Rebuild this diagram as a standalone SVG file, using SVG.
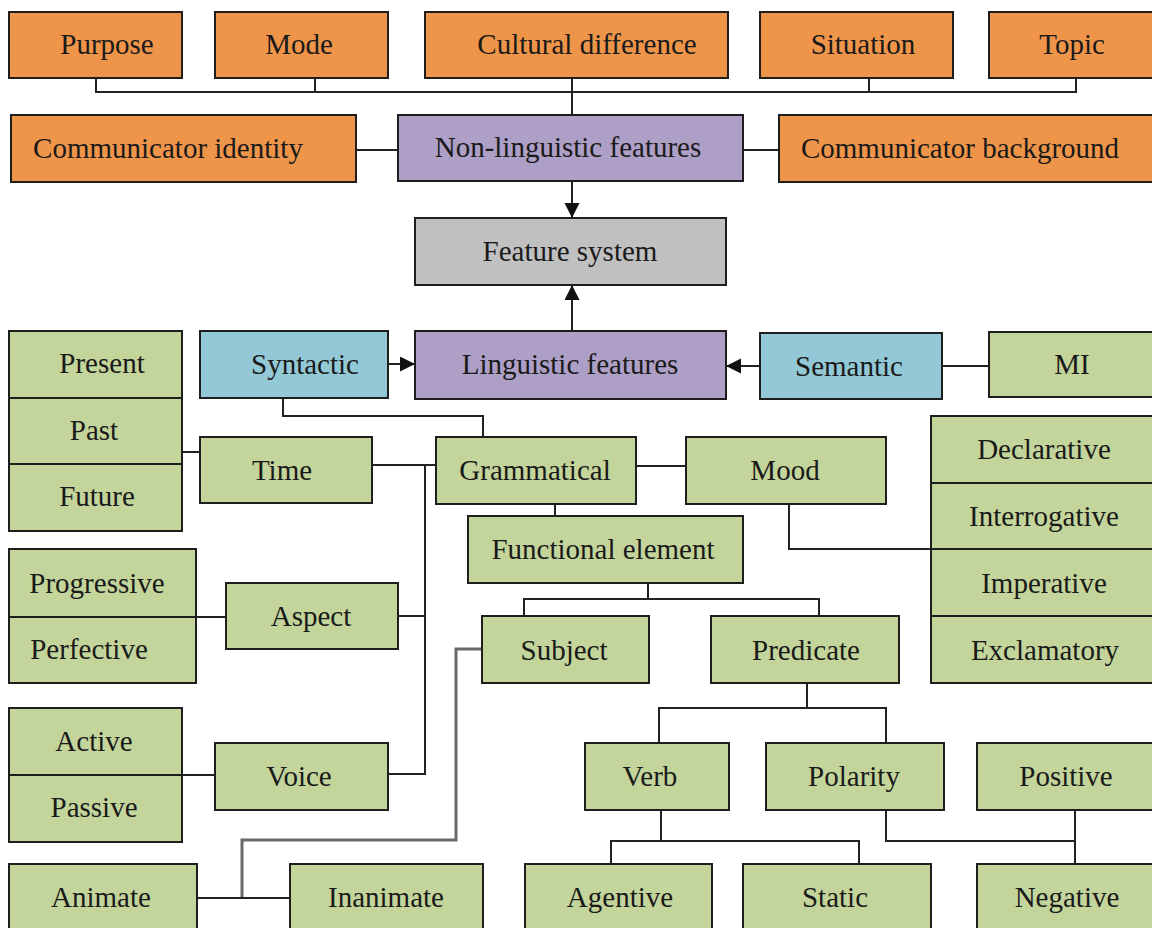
<svg xmlns="http://www.w3.org/2000/svg" width="1152" height="928" viewBox="0 0 1152 928">
  <style>
    .box { stroke: #1e1e1e; stroke-width: 2; }
    .o { fill: #ef9549; }
    .p { fill: #ae9fc6; }
    .b { fill: #93c9d6; }
    .g { fill: #c3d59b; }
    .s { fill: #c0c0c0; }
    .t { font-family: "Liberation Serif", "Times New Roman", serif; font-size: 29px; fill: #1a1a1a; text-anchor: middle; }
    .ln { fill: none; stroke: #222; stroke-width: 2; }
    .lg { fill: none; stroke: #6a6a6a; stroke-width: 3; }
  </style>
  <defs>
    <marker id="arr" markerUnits="userSpaceOnUse" markerWidth="16" markerHeight="16" refX="15" refY="7.5" orient="auto">
      <path d="M0,0 L15,7.5 L0,15 z" fill="#111"/>
    </marker>
  </defs>
  <rect width="1152" height="928" fill="#ffffff"/>

  <!-- connectors -->
  <g id="connectors">
    <path class="ln" d="M96,78 V92 H1076 V78 M315,78 V92 M869,78 V92 M572,78 V115"/>
    <path class="ln" d="M356,150 H398 M743,150 H779"/>
    <path class="ln" d="M572,181 V218" marker-end="url(#arr)"/>
    <path class="ln" d="M572,331 V285" marker-end="url(#arr)"/>
    <path class="ln" d="M388,364 H415" marker-end="url(#arr)"/>
    <path class="ln" d="M760,366 H726" marker-end="url(#arr)"/>
    <path class="ln" d="M942,366 H989"/>
    <path class="ln" d="M283,398 V416 H483 V437"/>
    <path class="ln" d="M182,452 H200"/>
    <path class="ln" d="M372,465 H436 M425,465 V774 H388 M398,616 H425"/>
    <path class="ln" d="M636,466 H686"/>
    <path class="ln" d="M789,503 V549 H931"/>
    <path class="ln" d="M555,503 V516"/>
    <path class="ln" d="M648,583 V599 M524,616 V599 H819 V616"/>
    <path class="ln" d="M196,617 H226"/>
    <path class="ln" d="M182,775 H215"/>
    <path class="lg" d="M482,649 H456 V840 H242 V898"/>
    <path class="ln" d="M197,898 H290"/>
    <path class="ln" d="M807,683 V708 M659,743 V708 H886 V743"/>
    <path class="ln" d="M661,810 V841 M611,864 V841 H859 V864"/>
    <path class="ln" d="M886,810 V841 H1075 M1075,810 V864"/>
  </g>

  <!-- non-linguistic factors -->
  <g id="purpose"><rect class="box o" x="9" y="12" width="173" height="66"/><text class="t" x="107" y="54">Purpose</text></g>
  <g id="mode"><rect class="box o" x="215" y="12" width="173" height="66"/><text class="t" x="299" y="54">Mode</text></g>
  <g id="cultural-difference"><rect class="box o" x="425" y="12" width="303" height="66"/><text class="t" x="587" y="54">Cultural difference</text></g>
  <g id="situation"><rect class="box o" x="760" y="12" width="193" height="66"/><text class="t" x="863" y="54">Situation</text></g>
  <g id="topic"><rect class="box o" x="989" y="12" width="170" height="66"/><text class="t" x="1072" y="54">Topic</text></g>
  <g id="communicator-identity"><rect class="box o" x="11" y="115" width="345" height="67"/><text class="t" x="168" y="158">Communicator identity</text></g>
  <g id="non-linguistic-features"><rect class="box p" x="398" y="115" width="345" height="66"/><text class="t" x="568" y="157">Non-linguistic features</text></g>
  <g id="communicator-background"><rect class="box o" x="779" y="115" width="380" height="67"/><text class="t" x="960" y="158">Communicator background</text></g>

  <!-- central -->
  <g id="feature-system"><rect class="box s" x="415" y="218" width="311" height="67"/><text class="t" x="570" y="261">Feature system</text></g>
  <g id="syntactic"><rect class="box b" x="200" y="331" width="188" height="67"/><text class="t" x="305" y="374">Syntactic</text></g>
  <g id="linguistic-features"><rect class="box p" x="415" y="331" width="311" height="68"/><text class="t" x="570" y="374">Linguistic features</text></g>
  <g id="semantic"><rect class="box b" x="760" y="333" width="182" height="66"/><text class="t" x="849" y="376">Semantic</text></g>
  <g id="mi"><rect class="box g" x="989" y="332" width="170" height="65"/><text class="t" x="1072" y="374">MI</text></g>

  <!-- time -->
  <g id="present"><rect class="box g" x="9" y="331" width="173" height="67"/><text class="t" x="102" y="373">Present</text></g>
  <g id="past"><rect class="box g" x="9" y="398" width="173" height="66"/><text class="t" x="94" y="440">Past</text></g>
  <g id="future"><rect class="box g" x="9" y="464" width="173" height="67"/><text class="t" x="97" y="506">Future</text></g>
  <g id="time"><rect class="box g" x="200" y="437" width="172" height="66"/><text class="t" x="282" y="480">Time</text></g>
  <g id="grammatical"><rect class="box g" x="436" y="437" width="200" height="67"/><text class="t" x="535" y="480">Grammatical</text></g>
  <g id="mood"><rect class="box g" x="686" y="437" width="200" height="67"/><text class="t" x="785" y="480">Mood</text></g>

  <!-- mood types -->
  <g id="declarative"><rect class="box g" x="931" y="416" width="228" height="67"/><text class="t" x="1044" y="459">Declarative</text></g>
  <g id="interrogative"><rect class="box g" x="931" y="483" width="228" height="66"/><text class="t" x="1044" y="526">Interrogative</text></g>
  <g id="imperative"><rect class="box g" x="931" y="549" width="228" height="67"/><text class="t" x="1044" y="593">Imperative</text></g>
  <g id="exclamatory"><rect class="box g" x="931" y="616" width="228" height="67"/><text class="t" x="1045" y="660">Exclamatory</text></g>

  <g id="functional-element"><rect class="box g" x="468" y="516" width="275" height="67"/><text class="t" x="603" y="559">Functional element</text></g>

  <!-- aspect -->
  <g id="progressive"><rect class="box g" x="9" y="549" width="187" height="68"/><text class="t" x="97" y="593">Progressive</text></g>
  <g id="perfective"><rect class="box g" x="9" y="617" width="187" height="66"/><text class="t" x="89" y="659">Perfective</text></g>
  <g id="aspect"><rect class="box g" x="226" y="583" width="172" height="66"/><text class="t" x="311" y="626">Aspect</text></g>

  <g id="subject"><rect class="box g" x="482" y="616" width="167" height="67"/><text class="t" x="564" y="660">Subject</text></g>
  <g id="predicate"><rect class="box g" x="711" y="616" width="188" height="67"/><text class="t" x="806" y="660">Predicate</text></g>

  <!-- voice -->
  <g id="active"><rect class="box g" x="9" y="708" width="173" height="67"/><text class="t" x="94" y="751">Active</text></g>
  <g id="passive"><rect class="box g" x="9" y="775" width="173" height="67"/><text class="t" x="94" y="817">Passive</text></g>
  <g id="voice"><rect class="box g" x="215" y="743" width="173" height="67"/><text class="t" x="299" y="786">Voice</text></g>

  <!-- predicate branches -->
  <g id="verb"><rect class="box g" x="585" y="743" width="144" height="67"/><text class="t" x="650" y="786">Verb</text></g>
  <g id="polarity"><rect class="box g" x="766" y="743" width="178" height="67"/><text class="t" x="854" y="786">Polarity</text></g>
  <g id="positive"><rect class="box g" x="977" y="743" width="182" height="67"/><text class="t" x="1066" y="786">Positive</text></g>

  <!-- bottom row -->
  <g id="animate"><rect class="box g" x="9" y="864" width="188" height="72"/><text class="t" x="101" y="907">Animate</text></g>
  <g id="inanimate"><rect class="box g" x="290" y="864" width="193" height="72"/><text class="t" x="386" y="907">Inanimate</text></g>
  <g id="agentive"><rect class="box g" x="525" y="864" width="187" height="72"/><text class="t" x="620" y="907">Agentive</text></g>
  <g id="static"><rect class="box g" x="743" y="864" width="188" height="72"/><text class="t" x="835" y="907">Static</text></g>
  <g id="negative"><rect class="box g" x="977" y="864" width="182" height="72"/><text class="t" x="1067" y="907">Negative</text></g>
</svg>
